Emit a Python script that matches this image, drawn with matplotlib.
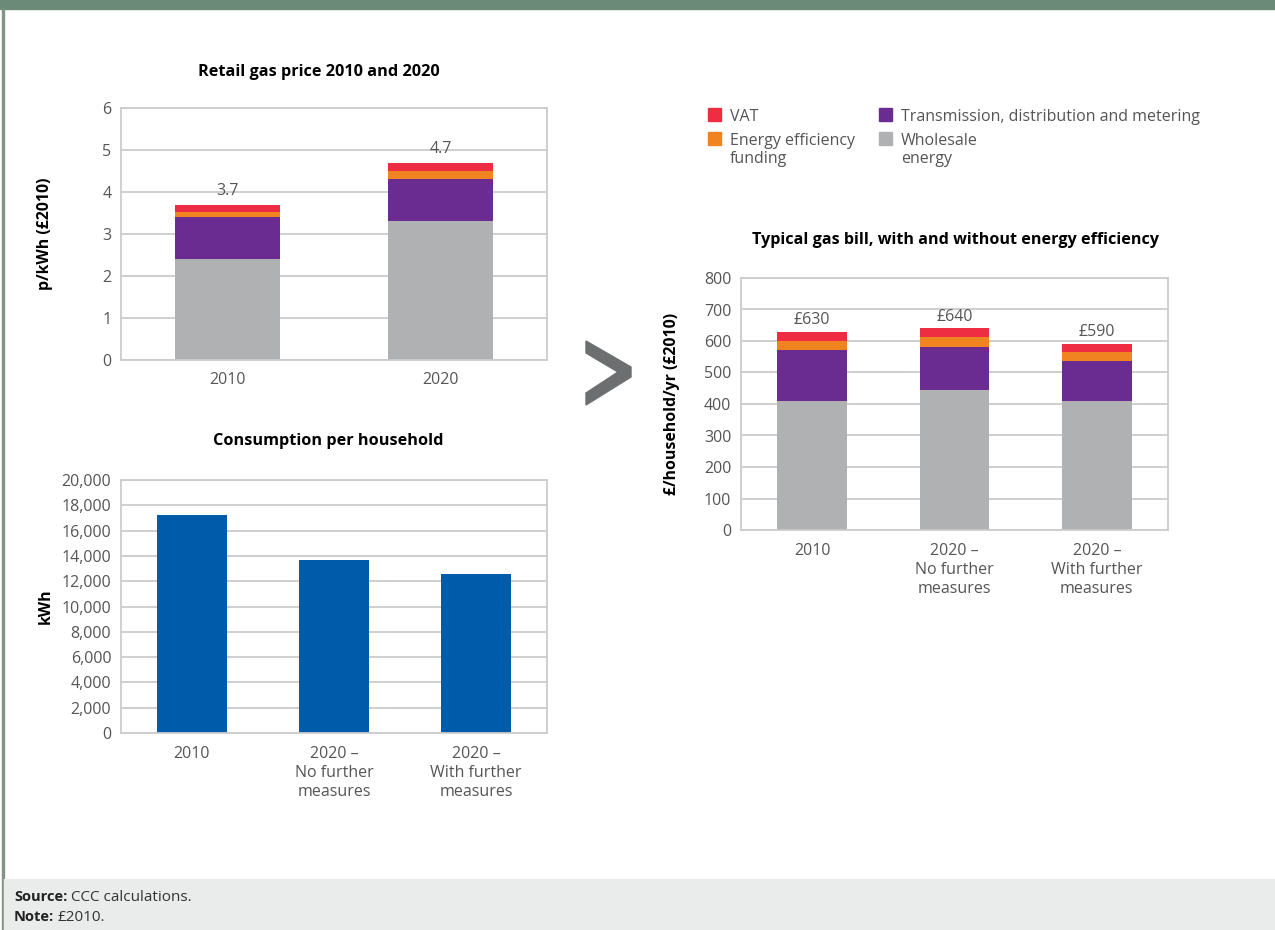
import matplotlib
matplotlib.use("Agg")
import matplotlib.pyplot as plt
from matplotlib.patches import Rectangle, Polygon
import numpy as np

plt.rcParams['font.family'] = ['Open Sans', 'DejaVu Sans']

# retail gas price, p/kWh (£2010)
price_years = ['2010', '2020']
price_wholesale = [2.4, 3.3]
price_tdm = [1.0, 1.0]
price_eef = [0.12, 0.2]
price_vat = [0.18, 0.2]

# consumption per household, kWh
cons_labels = ['2010', '2020 –\nNo further\nmeasures', '2020 –\nWith further\nmeasures']
cons_kwh = [17200, 13700, 12600]

# typical gas bill, £/household/yr (£2010)
bill_labels = ['2010', '2020 –\nNo further\nmeasures', '2020 –\nWith further\nmeasures']
bill_wholesale = [408, 446, 411]
bill_tdm = [165, 134, 124]
bill_eef = [26, 32, 29]
bill_vat = [31, 28, 26]

series_names = ['VAT', 'Energy efficiency\nfunding',
                'Transmission, distribution and metering', 'Wholesale\nenergy']
c_vat = '#ee2d43'
c_eef = '#ef8420'
c_tdm = '#6b2c91'
c_whl = '#afb1b2'
c_blue = '#005bab'
grid_c = '#cccccc'
tick_c = '#555555'

W, H = 1275, 930
fig = plt.figure(figsize=(W / 100, H / 100), dpi=100)


def px_rect(l, t, r, b):
    return [l / W, 1 - b / H, (r - l) / W, (b - t) / H]


def style(ax, ymax, step):
    ax.set_ylim(0, ymax)
    ax.set_yticks(np.arange(0, ymax + step / 2, step))
    ax.yaxis.grid(True, color=grid_c, lw=1.3)
    ax.set_axisbelow(True)
    for s in ax.spines.values():
        s.set_color(grid_c)
        s.set_linewidth(1.3)
    ax.tick_params(length=0, labelsize=11.5, labelcolor=tick_c)
    ax.tick_params(axis='y', pad=7)
    ax.tick_params(axis='x', pad=9)


def stacked(ax, labels, layers, width):
    x = np.arange(len(labels))
    bottom = np.zeros(len(labels))
    for vals, col in layers:
        ax.bar(x, vals, width, bottom=bottom, color=col, zorder=2)
        bottom = bottom + np.array(vals)
    ax.set_xticks(x)
    ax.set_xticklabels(labels, linespacing=1.25)
    ax.set_xlim(-0.5, len(labels) - 0.5)
    return x, bottom


# top left: retail price
ax1 = fig.add_axes(px_rect(121, 108, 547, 360))
style(ax1, 6, 1)
x, tot = stacked(ax1, price_years,
                 [(price_wholesale, c_whl), (price_tdm, c_tdm),
                  (price_eef, c_eef), (price_vat, c_vat)], 0.49)
for xi, t in zip(x, tot):
    ax1.text(xi, t + 0.14, f'{t:.1f}', ha='center', va='bottom',
             fontsize=11.5, color=tick_c, zorder=3)
ax1.set_ylabel('p/kWh (£2010)', fontsize=11.4, fontweight='bold')
ax1.yaxis.set_label_coords(-0.159, 0.5)
fig.text(319 / W, 1 - 72 / H, 'Retail gas price 2010 and 2020',
         ha='center', va='center', fontsize=11.7, fontweight='bold')

# bottom left: consumption
ax2 = fig.add_axes(px_rect(121, 480, 547, 733))
style(ax2, 20000, 2000)
xc = np.arange(len(cons_labels))
ax2.bar(xc, cons_kwh, 0.49, color=c_blue, zorder=2)
ax2.set_xticks(xc)
ax2.set_xticklabels(cons_labels, linespacing=1.25)
ax2.set_xlim(-0.5, len(cons_labels) - 0.5)
ax2.yaxis.set_major_formatter(matplotlib.ticker.FuncFormatter(lambda v, p: f'{v:,.0f}'))
ax2.set_ylabel('kWh', fontsize=11.4, fontweight='bold')
ax2.yaxis.set_label_coords(-0.159, 0.5)
fig.text(328 / W, 1 - 441 / H, 'Consumption per household',
         ha='center', va='center', fontsize=11.7, fontweight='bold')

# right: gas bill
ax3 = fig.add_axes(px_rect(741, 278, 1168, 530))
style(ax3, 800, 100)
x3, tot3 = stacked(ax3, bill_labels,
                   [(bill_wholesale, c_whl), (bill_tdm, c_tdm),
                    (bill_eef, c_eef), (bill_vat, c_vat)], 0.49)
for xi, t in zip(x3, tot3):
    ax3.text(xi, t + 12, f'£{t:.0f}', ha='center', va='bottom',
             fontsize=11.5, color=tick_c, zorder=3)
ax3.set_ylabel('£/household/yr (£2010)', fontsize=11.4, fontweight='bold')
ax3.yaxis.set_label_coords(-0.143, 0.5)
fig.text(955 / W, 1 - 240 / H, 'Typical gas bill, with and without energy efficiency',
         ha='center', va='center', fontsize=11.6, fontweight='bold')

# legend
leg_cols = [c_vat, c_eef, c_tdm, c_whl]
leg_pos = [(708, 108), (708, 132), (879, 108), (879, 132)]
for name, col, (lx, ly) in zip(series_names, leg_cols, leg_pos):
    fig.patches.append(Rectangle((lx / W, 1 - (ly + 13) / H), 13 / W, 13 / H,
                                 transform=fig.transFigure, color=col))
    fig.text((lx + 22) / W, 1 - (ly + 1) / H, name, ha='left', va='top',
             fontsize=11.5, color=tick_c, linespacing=1.2)

# chevron between the panels
chev = [(586, 341), (631, 367), (631, 377), (586, 405), (586, 393),
        (618, 372), (586, 353)]
fig.patches.append(Polygon([(a / W, 1 - b / H) for a, b in chev], closed=True,
                           transform=fig.transFigure, color='#6d6e70'))

# frame: top band, left rule, footer
fig.patches.append(Rectangle((0, 1 - 9 / H), 1, 9 / H, transform=fig.transFigure,
                             color='#6b8a77'))
fig.patches.append(Rectangle((2 / W, 0), 2 / W, 1 - 9 / H, transform=fig.transFigure,
                             color='#7f9686'))
fig.patches.append(Rectangle((4 / W, 0), 1, 51 / H, transform=fig.transFigure,
                             color='#e9ecea'))
fig.text(14 / W, 1 - 897 / H, 'Source:', fontsize=10.5, fontweight='bold',
         va='center', color='#222222')
fig.text(71 / W, 1 - 897 / H, 'CCC calculations.', fontsize=11,
         va='center', color='#333333')
fig.text(14 / W, 1 - 917 / H, 'Note:', fontsize=10.5, fontweight='bold',
         va='center', color='#222222')
fig.text(57 / W, 1 - 917 / H, '£2010.', fontsize=11, va='center', color='#333333')

fig.savefig('out.png', dpi=100)
